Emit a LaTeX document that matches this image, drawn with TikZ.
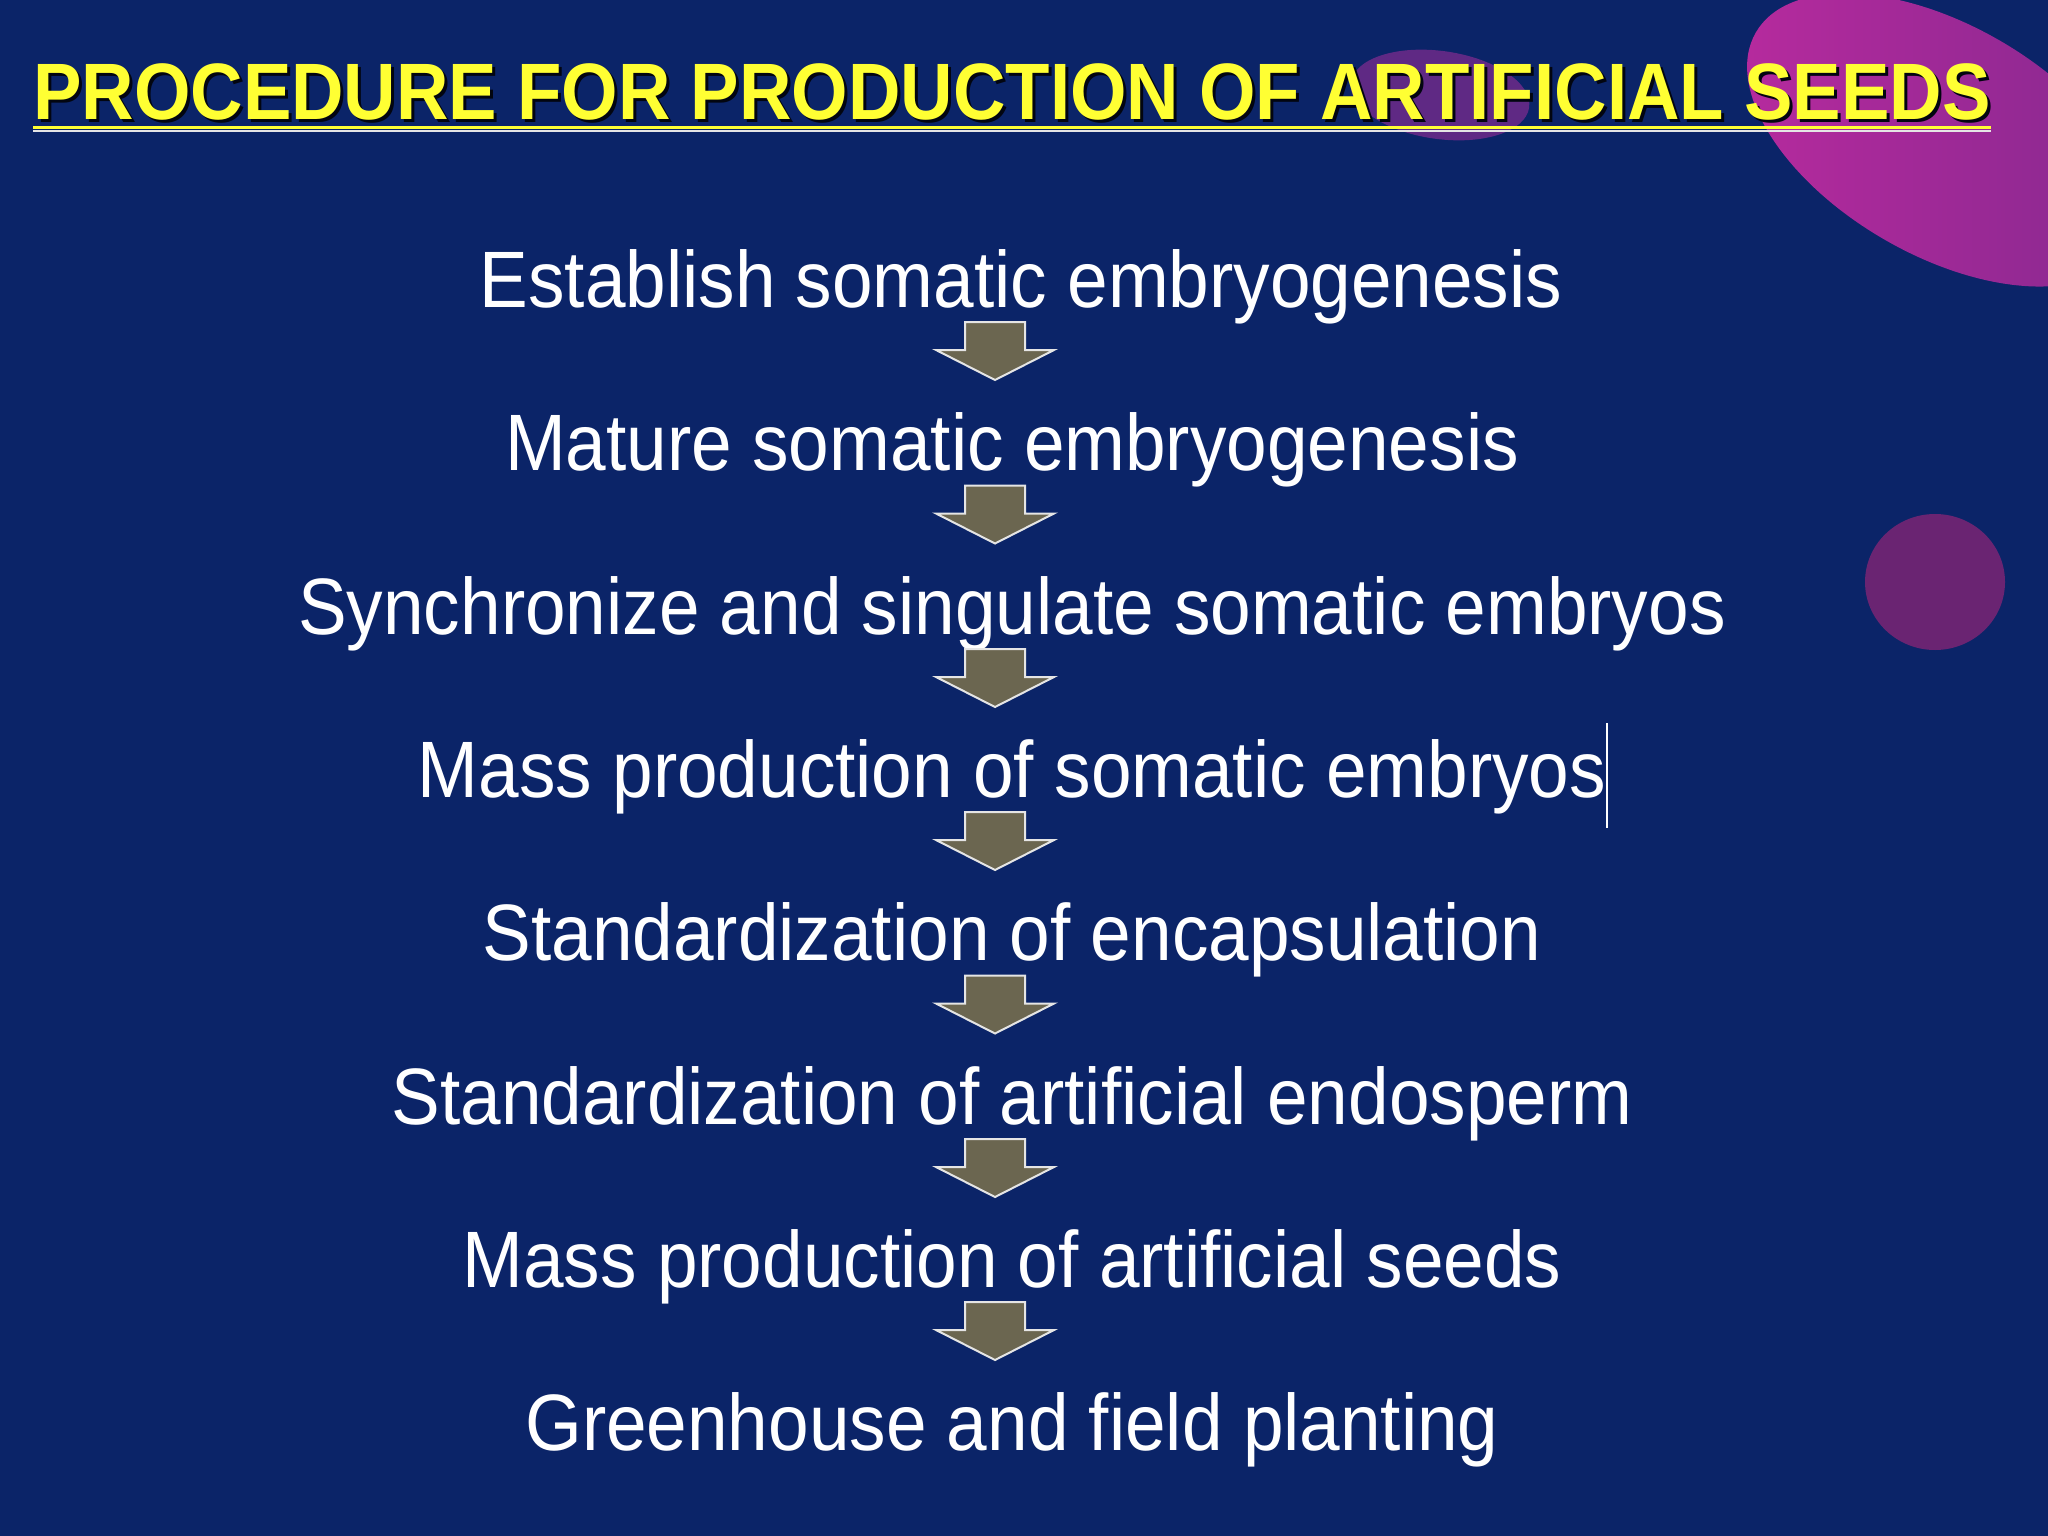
\documentclass[tikz,border=0pt]{standalone}
\usepackage{fontspec}
\setmainfont{Liberation Sans}
\usetikzlibrary{shadings,calc}
\definecolor{bg}{HTML}{0B2468}
\definecolor{blobA}{HTML}{B82A9E}
\definecolor{blobB}{HTML}{84288F}
\definecolor{blobC}{HTML}{6A2472}
\definecolor{blobD}{HTML}{6E2A8A}
\definecolor{ttl}{HTML}{FFFF33}
\definecolor{arrfill}{HTML}{6B6650}
\newcommand{\stepfmt}[1]{\scalebox{0.912}[1]{#1}}
\newcommand{\ttlfmt}[1]{\scalebox{0.908}[1]{#1}}
\tikzset{
  stepnode/.style={text=white, font=\fontsize{80}{96}\selectfont, inner sep=0pt, anchor=center},
  titlenode/.style={anchor=base west, inner sep=0pt, font=\fontsize{80}{92}\selectfont\bfseries},
  blockarrow/.style={fill=arrfill, draw=white!80!gray, line width=2pt, line join=miter},
}
\begin{document}
\begin{tikzpicture}[x=1pt,y=-1pt]
\useasboundingbox (0,0) rectangle (2048,1536);
\fill[bg] (0,0) rectangle (2048,1536);
% decorative blobs
\fill[blobD, opacity=0.85, rotate around={-8:(1440,95)}] (1440,95) ellipse [x radius=90, y radius=44];
\shade[left color=blobA, right color=blobB, rotate around={-30:(1942,140)}] (1942,140) ellipse [x radius=215, y radius=115];
\fill[blobC] (1935,582) ellipse [x radius=70, y radius=68];
% title
\node[titlenode, text=black!85!bg] at (36,123) {\ttlfmt{PROCEDURE FOR PRODUCTION OF ARTIFICIAL SEEDS}};
\node (title) [titlenode, text=ttl] at (33,120) {\ttlfmt{PROCEDURE FOR PRODUCTION OF ARTIFICIAL SEEDS}};
\draw[white!80!gray, line width=2pt] ($(title.base west)+(0,11)$) -- ($(title.base east)+(0,11)$);
\draw[ttl, line width=3pt] ($(title.base west)+(0,8)$) -- ($(title.base east)+(0,8)$);
% steps
\node[stepnode] (s1) at (1021,287) {\stepfmt{Establish somatic embryogenesis}};
\node[stepnode] (s2) at (1012,450) {\stepfmt{Mature somatic embryogenesis}};
\node[stepnode] (s3) at (1012,614) {\stepfmt{Synchronize and singulate somatic embryos}};
\node[stepnode] (s4) at (1012,777) {\stepfmt{Mass production of somatic embryos}};
\node[stepnode] (s5) at (1012,940) {\stepfmt{Standardization of encapsulation}};
\node[stepnode] (s6) at (1012,1104) {\stepfmt{Standardization of artificial endosperm}};
\node[stepnode] (s7) at (1012,1267) {\stepfmt{Mass production of artificial seeds}};
\node[stepnode] (s8) at (1012,1430) {\stepfmt{Greenhouse and field planting}};
% arrows
\coordinate (ax) at (995,0);
\foreach \i/\j in {1/2,2/3,3/4,4/5,5/6,6/7,7/8}{
  \coordinate (a\i) at ($(s\i)!0.5!(s\j)$);
  \coordinate (t\i) at (a\i -| ax);
  \draw[blockarrow] ($(t\i)+(-30,-46.5)$) -- ++(60,0) -- ++(0,28) -- ++(29,0) -- ++(-59,30) -- ++(-59,-30) -- ++(29,0) -- cycle;
}
% text cursor
\draw[white, line width=2pt] (1607,723) -- (1607,828);
\end{tikzpicture}
\end{document}
